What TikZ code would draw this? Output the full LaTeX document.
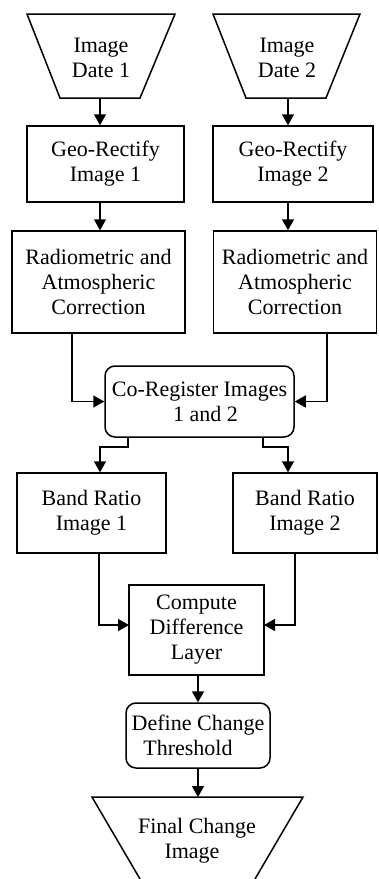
\documentclass[tikz,border=0pt]{standalone}
\usepackage{fontspec}
\setmainfont{Liberation Serif}
\usetikzlibrary{arrows.meta}
\begin{document}
\begin{tikzpicture}[x=1pt,y=-1pt,
  line width=1.5pt,
  txt/.style={align=center,font=\fontsize{22}{25}\selectfont,inner sep=0pt},
  box/.style={txt,draw,minimum width=#1},
  rbox/.style={txt,draw,rounded corners=10pt,minimum width=#1},
  arr/.style={-{Triangle[width=12pt,length=11pt]}}]
\useasboundingbox (0,0) rectangle (378,879);
\clip (0,0) rectangle (378,879);
% trapezoids
\draw (27,14) -- (175,14) -- (140,98) -- (60,98) -- cycle;
\node[txt] (img1) at (101,58) {Image\\Date 1};
\coordinate (img1b) at (100,98);
\draw (213,14) -- (360,14) -- (326,98) -- (246,98) -- cycle;
\node[txt] (img2) at (287,58) {Image\\Date 2};
\coordinate (img2b) at (288,98);
% boxes
\node[box=157pt,minimum height=76pt] (geo1) at (105.5,164) {Geo-Rectify\\Image 1};
\node[box=160pt,minimum height=76pt] (geo2) at (293,164) {Geo-Rectify\\Image 2};
\node[box=173pt,minimum height=102pt] (rad1) at (98.5,282) {Radiometric and\\Atmospheric\\Correction};
\node[box=163pt,minimum height=102pt] (rad2) at (295,282) {Radiometric and\\Atmospheric\\Correction};
\node[rbox=189pt,minimum height=71pt] (coreg) at (199.5,401.5) {Co-Register Images\\\hspace*{12pt}1 and 2};
\node[box=149pt,minimum height=80pt] (band1) at (91.5,513) {Band Ratio\\Image 1};
\node[box=144pt,minimum height=80pt] (band2) at (305,513) {Band Ratio\\Image 2};
\node[box=135pt,minimum height=90pt] (comp) at (196.5,630) {Compute\\Difference\\Layer};
\node[rbox=144pt,minimum height=65pt] (def) at (198,735.5) {Define Change\\Threshold\hspace*{20pt}};
\draw (92,797) -- (303,797) -- (242.7,900) -- (152.3,900) -- cycle;
\node[txt] (fin) at (197,841) {Final Change\\Image\hspace*{10pt}};
\coordinate (fint) at (198,797);
% connectors
\draw[arr] (img1b) -- (img1b |- geo1.north);
\draw[arr] (img2b) -- (img2b |- geo2.north);
\draw[arr] (geo1.south -| img1b) -- (rad1.north -| img1b);
\draw[arr] (geo2.south -| img2b) -- (rad2.north -| img2b);
\coordinate (r1) at (72,333);
\coordinate (r2) at (327,333);
\draw[arr] (r1) |- (coreg.west);
\draw[arr] (r2) |- (coreg.east);
\coordinate (c1) at (128,437);
\coordinate (c2) at (263,437);
\draw[arr] (c1) -- ++(0,10) -| (band1.north -| img1b);
\draw[arr] (c2) -- ++(0,10) -| (band2.north -| img2b);
\coordinate (b1) at (99,553);
\coordinate (b2) at (295,553);
\coordinate (cl) at (129,625);
\coordinate (cr) at (264,625);
\draw[arr] (b1) |- (cl);
\draw[arr] (b2) |- (cr);
\draw[arr] (comp.south -| fint) -- (def.north -| fint);
\draw[arr] (def.south -| fint) -- (fint);
\end{tikzpicture}
\end{document}
